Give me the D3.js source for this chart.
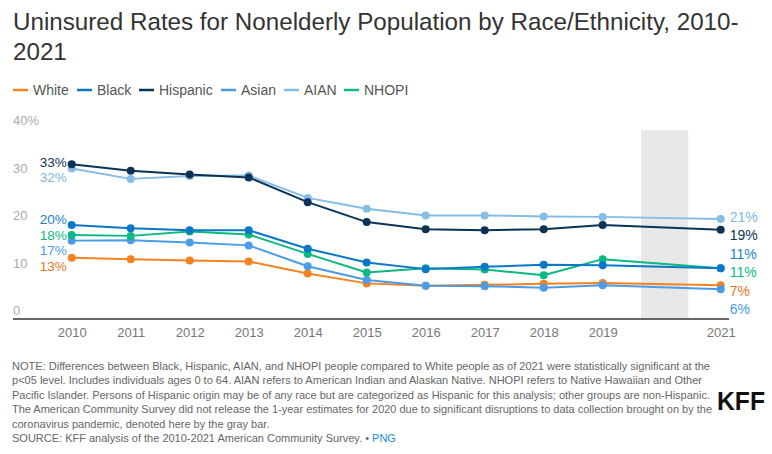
<!DOCTYPE html>
<html><head><meta charset="utf-8">
<script src="https://cdn.jsdelivr.net/npm/d3@7"></script>
<style>
html,body{margin:0;padding:0;background:#fff;}
svg{display:block;font-family:"Liberation Sans",Arial,sans-serif;}
</style></head>
<body><svg id="c" width="772" height="454"></svg>
<script>
const years = [2010,2011,2012,2013,2014,2015,2016,2017,2018,2019,2021];
const seriesNames = ["White","Black","Hispanic","Asian","AIAN","NHOPI"];
const seriesColors = ["#f58220","#0b77c9","#0a3355","#4a9be8","#84bde6","#0cb982"];
const labelColors  = ["#e8761a","#1b7fcf","#0a3355","#4a9be8","#7db8e3","#0cb982"];
const white    = [12.9,12.6,12.3,12.1,9.6,7.5,7.0,7.2,7.4,7.6,7.1];
const black    = [19.8,19.1,18.7,18.7,14.8,11.9,10.5,11.0,11.4,11.3,10.7];
const hispanic = [32.6,31.2,30.4,29.8,24.6,20.4,18.9,18.7,18.9,19.8,18.8];
const asian    = [16.5,16.6,16.1,15.5,11.1,8.2,7.0,6.9,6.6,7.1,6.25];
const aian     = [31.7,29.5,30.1,30.2,25.5,23.2,21.8,21.8,21.6,21.5,21.05];
const nhopi    = [17.7,17.5,18.4,17.8,13.7,9.8,10.7,10.4,9.2,12.6,10.7];
const startLabels = ["13%","20%","33%","17%","32%","18%"];
const endLabels   = ["7%","11%","19%","6%","21%","11%"];
const yTicks = [0,10,20,30,40];
const yTickLabels = ["0","10","20","30","40%"];
const gapYears = [2019.65,2020.45];
const title1 = "Uninsured Rates for Nonelderly Population by Race/Ethnicity, 2010-";
const title2 = "2021";
const notes = [
 "NOTE: Differences between Black, Hispanic, AIAN, and NHOPI people compared to White people as of 2021 were statistically significant at the",
 "p<05 level. Includes individuals ages 0 to 64. AIAN refers to American Indian and Alaskan Native. NHOPI refers to Native Hawaiian and Other",
 "Pacific Islander. Persons of Hispanic origin may be of any race but are categorized as Hispanic for this analysis; other groups are non-Hispanic.",
 "The American Community Survey did not release the 1-year estimates for 2020 due to significant disruptions to data collection brought on by the",
 "coronavirus pandemic, denoted here by the gray bar."
];
const noteWidths = [698,690,698,700,0];
const source = "SOURCE: KFF analysis of the 2010-2021 American Community Survey. • ";
const allValues = [white,black,hispanic,asian,aian,nhopi];

const svg = d3.select("#c");
const x = d3.scaleLinear().domain([2010,2021]).range([71.7,720.7]);
const y = d3.scaleLinear().domain([0,40]).range([319,129]);

// title
svg.append("text").attr("x",13).attr("y",30).attr("font-size",24.2).attr("fill","#333").text(title1);
svg.append("text").attr("x",13).attr("y",60).attr("font-size",24.2).attr("fill","#333").text(title2);

// legend
const legendX = [13,77,139,221,284,344];
seriesNames.forEach((n,i)=>{
  const g = svg.append("g").attr("transform",`translate(${legendX[i]},90)`);
  g.append("line").attr("x1",0).attr("x2",15).attr("y1",0).attr("y2",0).attr("stroke",seriesColors[i]).attr("stroke-width",2.5);
  g.append("text").attr("x",20).attr("y",5).attr("font-size",14).attr("fill","#555").text(n);
});

// gray band
svg.append("rect").attr("x",x(gapYears[0])).attr("y",y(40)+1).attr("width",x(gapYears[1])-x(gapYears[0])).attr("height",y(0)-y(40)-1).attr("fill","#e8e8e8");

// y tick labels
yTicks.forEach((t,i)=>{
  svg.append("text").attr("x",13).attr("y",y(t)-4).attr("font-size",13).attr("fill","#aaa").text(yTickLabels[i]);
});

// x axis
const xAxis = d3.axisBottom(x).tickValues(years).tickFormat(d3.format("d")).tickSize(0).tickPadding(9);
const ax = svg.append("g").attr("transform",`translate(0,${y(0)})`).call(xAxis);
ax.select(".domain").remove();
ax.selectAll("text").attr("font-size",13).attr("fill","#777").attr("font-family","Liberation Sans, Arial, sans-serif");
svg.append("line").attr("x1",13).attr("x2",729).attr("y1",y(0)).attr("y2",y(0)).attr("stroke","#333").attr("stroke-width",1.5);

// lines
const line = d3.line().x((d,i)=>x(years[i])).y(d=>y(d));
const drawOrder = [0,3,5,1,4,2];
drawOrder.forEach(i=>{
  svg.append("path").datum(allValues[i]).attr("d",line).attr("fill","none")
    .attr("stroke",seriesColors[i]).attr("stroke-width",2).attr("stroke-linejoin","round");
});
drawOrder.forEach(i=>{
  svg.append("g").selectAll("circle").data(allValues[i]).join("circle")
    .attr("cx",(d,k)=>x(years[k])).attr("cy",d=>y(d)).attr("r",4).attr("fill",seriesColors[i]);
});

// label dodge
function dodge(targets, gap){
  let items = targets.map((t,i)=>({i, t})).sort((a,b)=>a.t-b.t);
  let groups = items.map(it=>({members:[it]}));
  function layout(g){ const n=g.members.length; const mean=d3.mean(g.members,m=>m.t); g.start = mean - (n-1)*gap/2; }
  groups.forEach(layout);
  let changed = true;
  while(changed){
    changed=false;
    for(let k=0;k<groups.length-1;k++){
      const a=groups[k], b=groups[k+1];
      const aEnd = a.start + (a.members.length-1)*gap;
      if(b.start - aEnd < gap){
        a.members = a.members.concat(b.members); layout(a); groups.splice(k+1,1); changed=true; break;
      }
    }
  }
  const out = new Array(targets.length);
  groups.forEach(g=>g.members.forEach((m,j)=>{ out[m.i] = g.start + j*gap; }));
  return out;
}
const startY = dodge(allValues.map(v=>y(v[0])), 15.5);
const endY = dodge(allValues.map(v=>y(v[v.length-1])), 18.4);
allValues.forEach((v,i)=>{
  svg.append("text").attr("x",x(2010)-5).attr("y",startY[i]+3+5).attr("text-anchor","end")
    .attr("font-size",13.5).attr("fill",labelColors[i]).text(startLabels[i]);
  svg.append("text").attr("x",x(2021)+9).attr("y",endY[i]+3+5)
    .attr("font-size",14).attr("fill",labelColors[i]).text(endLabels[i]);
});

// notes
notes.forEach((t,i)=>{
  const tx = svg.append("text").attr("x",12).attr("y",370+i*14.4).attr("font-size",11).attr("fill","#666").text(t);
  if(noteWidths[i]) tx.attr("textLength",noteWidths[i]).attr("lengthAdjust","spacingAndGlyphs");
});
const st = svg.append("text").attr("x",12).attr("y",370+5*14.4).attr("font-size",11).attr("fill","#666");
st.append("tspan").text(source);
st.append("tspan").attr("fill","#1a8cd8").text("PNG");

// KFF logo
svg.append("text").attr("x",717).attr("y",410).attr("font-size",25).attr("font-weight","bold").attr("fill","#111")
  .attr("textLength",48).attr("lengthAdjust","spacingAndGlyphs").text("KFF");
</script></body></html>
